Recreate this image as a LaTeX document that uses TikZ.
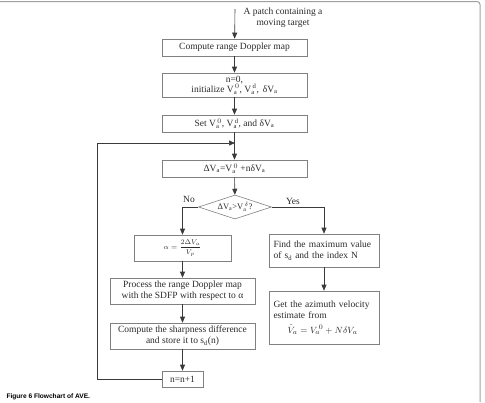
\documentclass[tikz,border=0pt]{standalone}
\usepackage{fontspec}
\setmainfont{Liberation Serif}
\setmathrm{Liberation Serif}
\newfontfamily\capfont{Liberation Sans}
\usetikzlibrary{arrows.meta,shapes.geometric}
\definecolor{boxline}{HTML}{808080}
\definecolor{arrline}{HTML}{3A3A3A}
\definecolor{txt}{HTML}{2A2A2A}
\begin{document}
\begin{tikzpicture}[x=1pt,y=-1pt,
  every node/.style={text=txt,font=\fontsize{9.5}{11}\selectfont},
  box/.style={draw=boxline,line width=0.6pt,rectangle,inner sep=1pt,align=center},
  lbox/.style={draw=boxline,line width=0.6pt,rectangle,inner sep=4pt,align=left},
  flow/.style={draw=arrline,line width=0.6pt,-{Triangle[length=6pt,width=5pt]}},
  plain/.style={draw=arrline,line width=0.6pt},
  lbl/.style={font=\fontsize{9.5}{11}\selectfont}]
\useasboundingbox (0,0) rectangle (485,402);
% frame
\draw[draw=gray!75,line width=1pt,rounded corners=3pt] (0,1.5) -- (480,1.5) -- (480,402);

\coordinate (start) at (235,9);
\node[align=center] (intro) at (283,18) {A patch containing a\\moving target};
\node[box,minimum width=145pt,minimum height=17pt] (b1) at (234.5,47.5) {Compute range Doppler map};
\node[box,minimum width=145pt,minimum height=24pt,font=\fontsize{9.5}{10.5}\selectfont] (b2) at (234.5,85) {n=0,\\initialize V$_\mathrm{a}^{\,0}$, V$_\mathrm{a}^{\,\mathrm{d}}$,\, δV$_\mathrm{a}$};
\node[box,minimum width=145pt,minimum height=17pt] (b3) at (234.5,123.5) {Set V$_\mathrm{a}^{\,0}$, V$_\mathrm{a}^{\,\mathrm{d}}$, and δV$_\mathrm{a}$};
\coordinate (join) at (235,143);
\node[box,minimum width=145pt,minimum height=17pt] (b4) at (234.5,168.5) {ΔV$_\mathrm{a}$=V$_\mathrm{a}^{\,0}$ +nδV$_\mathrm{a}$};
\node[diamond,draw=boxline,line width=0.6pt,minimum width=73pt,minimum height=24pt,inner sep=0pt,aspect=3,font=\fontsize{8.5}{9}\selectfont] (d) at (235,207) {ΔV$_\mathrm{a}$>V$_\mathrm{a}^{\,\delta}$?};
\node[lbl] (no) at (189,199) {No};
\node[lbl] (yes) at (293,201) {Yes};
\coordinate (dl) at (182.5,207);
\coordinate (dr) at (324,207);
\node[box,minimum width=97pt,minimum height=26pt,font=\fontsize{7}{8}\selectfont] (b5) at (182.5,248) {$\alpha=\displaystyle\frac{2\Delta V_a}{V_p}$};
\node[box,minimum width=145pt,minimum height=26pt] (b6) at (182.5,291) {Process the range Doppler map\\with the SDFP with respect to α};
\node[box,minimum width=145pt,minimum height=26pt] (b7) at (182.5,336) {Compute the sharpness difference\\and store it to s$_\mathrm{d}$(n)};
\node[box,minimum width=41pt,minimum height=16pt] (b8) at (182.5,379) {n=n+1};
\coordinate (lb) at (97,379);
\coordinate (lt) at (97,143);
\node[lbox,minimum width=110pt,minimum height=33pt,text width=101pt] (b9) at (324,250.5) {Find the maximum value\\of s$_\mathrm{d}$ and the index N};
\node[lbox,minimum width=110pt,minimum height=53pt,text width=101pt] (b10) at (324,317.5) {Get the azimuth velocity\\estimate from\\[4pt]\hspace*{14pt}$\hat{V}_a=V_a^{\,0}+N\delta V_a$};
\node[anchor=west,font=\capfont\bfseries\fontsize{6.6}{7}\selectfont,text=black] (cap) at (3,397) {Figure 6 Flowchart of AVE.};

\draw[flow] (start) -- (b1);
\draw[flow] (b1) -- (b2);
\draw[flow] (b2) -- (b3);
\draw[flow] (b3) -- (b4);
\draw[flow] (b4) -- (d);
\draw[flow] (d.west) -- (dl) -- (b5);
\draw[flow] (b5) -- (b6);
\draw[flow] (b6) -- (b7);
\draw[flow] (b7) -- (b8);
\draw[flow] (b8.west) -- (lb) -- (lt) -- (join);
\draw[flow] (d.east) -- (dr) -- (b9);
\draw[flow] (b9) -- (b10);
\end{tikzpicture}
\end{document}
